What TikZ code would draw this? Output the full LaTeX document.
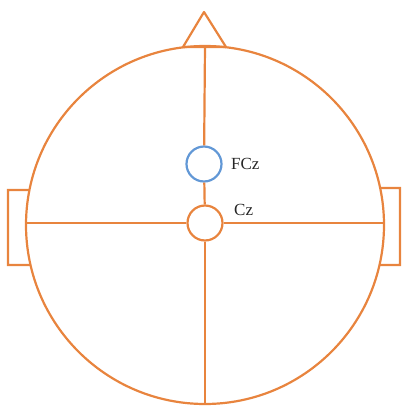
\documentclass[tikz,border=0pt]{standalone}
\usepackage{fontspec}
\setmainfont{Liberation Serif}
\definecolor{headorange}{RGB}{232,132,62}
\definecolor{elecblue}{RGB}{98,152,214}
\begin{document}
\begin{tikzpicture}[x=1pt,y=-1pt,
  headline/.style={draw=headorange,line width=2.2pt},
  electrode/.style={circle,line width=2.2pt,minimum size=35pt,inner sep=0pt},
  lbl/.style={font=\fontsize{17}{17}\selectfont,text=black!85,anchor=west,inner sep=0pt}]
\useasboundingbox (0,0) rectangle (402,410);
\coordinate (C) at (205,225);
% head
\draw[headline] (C) circle[radius=179];
% nose
\draw[headline,line join=round] (183,47) -- (204,12) -- (226,47) -- cycle;
% ears
\draw[headline] ([shift={(191.3:179)}]C) -- (8,190) -- (8,265) -- ([shift={(167.1:179)}]C);
\draw[headline] ([shift={(-11.9:179)}]C) -- (400,188) -- (400,265) -- ([shift={(12.9:179)}]C);
% electrodes
\node[electrode,draw=elecblue] (fcz) at (204,164) {};
\node[electrode,draw=headorange] (cz) at (205,223) {};
\node[lbl] (fczl) at (231,164) {FCz};
\node[lbl] (czl) at (234,210) {Cz};
% axes
\coordinate (top) at (205,46);
\coordinate (bot) at (205,404);
\coordinate (lft) at (26,223);
\coordinate (rgt) at (384,223);
\draw[headline] (top) -- (fcz);
\draw[headline] (fcz) -- (cz);
\draw[headline] (cz) -- (bot);
\draw[headline] (cz) -- (lft);
\draw[headline] (cz) -- (rgt);
\end{tikzpicture}
\end{document}
